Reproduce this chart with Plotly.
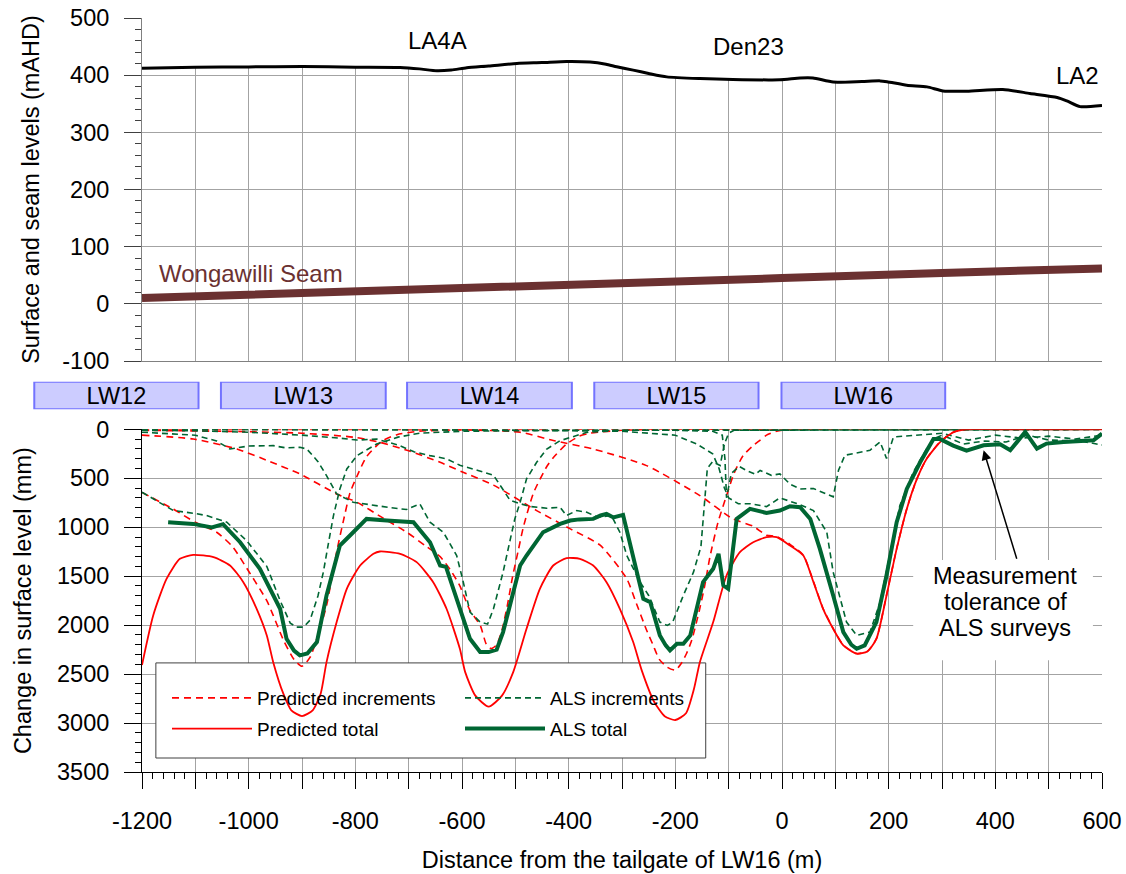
import plotly.graph_objects as go

# ---------------- data ----------------
surface_x = [-1200, -1100, -1000, -900, -800, -716, -680, -647, -620, -591, -550, -497, -450, -404, -360,
             -330, -310, -279, -250, -216, -154, -92, -4, 34, 58, 96, 150, 184, 197, 234, 272, 302, 347,
             414, 465, 516, 534, 559, 600]
surface_y = [412, 414, 414.5, 415, 414, 413.5, 411, 407.6, 409, 413, 416, 420.5, 422, 424, 423,
             419, 414.6, 408.8, 403, 397, 394, 392.4, 392, 395, 395, 388, 389, 390, 388.6, 382.5, 379.5, 372.5, 372,
             375, 368, 361, 355, 345, 347]
seam_x = [-1200, -900, -600, -300, 0, 300, 600]
seam_y = [10, 18, 27, 36, 45, 54, 62]

site_labels = ["LA4A", "Den23", "LA2"]
site_x = [-646, -62, 554]
site_y = [460, 451, 400]

panel_names = ["LW12", "LW13", "LW14", "LW15", "LW16"]
panel_start = [-1402, -1052, -703, -352, -1]
panel_end = [-1094, -743, -394, -44, 306]

pred_total_x = [-1200, -1179, -1154, -1129, -1104, -1066, -1035, -1010, -985, -966, -954, -935, -920, -900, -880,
                -865, -854, -835, -816, -791, -766, -754, -716, -685, -654, -629, -604, -594, -575, -550, -525,
                -504, -479, -454, -429, -404, -379, -354, -329, -304, -279, -263, -240, -220, -200, -180, -165,
                -154, -129, -104, -79, -54, -29, -10, 15, 40, 59, 77, 96, 115, 140, 160, 177, 196, 215, 234,
                253, 271, 296, 321, 346, 400, 500, 600]
pred_total_y = [2408, 1901, 1527, 1323, 1282, 1306, 1391, 1561, 1833, 2105, 2378, 2700, 2870, 2929, 2870,
                2700, 2378, 1969, 1629, 1391, 1272, 1248, 1272, 1357, 1561, 1833, 2242, 2480, 2720, 2833, 2720,
                2480, 2037, 1629, 1391, 1316, 1323, 1391, 1561, 1833, 2173, 2462, 2780, 2930, 2969, 2900, 2650,
                2378, 1969, 1493, 1255, 1153, 1102, 1102, 1187, 1289, 1561, 1833, 2037, 2207, 2292, 2270, 2140,
                1697, 1221, 813, 507, 303, 133, 31, 0, 0, 0, 0]

pred_inc_lw13_x = [-1200, -1142, -1100, -1060, -1030, -1000, -966, -954, -935, -915, -900, -885, -870, -854,
                   -835, -823, -810, -797, -779, -750, -722, -680, -600, 600]
pred_inc_lw13_y = [645, 813, 950, 1051, 1200, 1450, 1750, 1900, 2150, 2350, 2420, 2330, 2100, 1800,
                   1250, 950, 650, 480, 280, 120, 55, 20, 5, 0]
pred_inc_lw14_x = [-1200, -1104, -1022, -960, -904, -835, -797, -750, -704, -666, -641, -620, -604, -585, -566,
                   -554, -545, -535, -525, -515, -505, -495, -485, -466, -441, -429, -404, -380, -360, -300,
                   -200, 600]
pred_inc_lw14_y = [60, 99, 201, 330, 456, 660, 745, 900, 1050, 1200, 1300, 1450, 1600, 1850, 2000,
                   2200, 2240, 2200, 2050, 1800, 1500, 1250, 1000, 650, 380, 290, 150, 70, 40, 10,
                   0, 0]
pred_inc_lw15_x = [-1200, -1000, -900, -804, -754, -700, -641, -598, -541, -460, -397, -341, -291, -275, -254,
                   -242, -230, -215, -200, -190, -179, -169, -155, -145, -135, -120, -104, -90, -73, -55, -41,
                   -29, -10, 20, 600]
pred_inc_lw15_y = [10, 25, 40, 80, 133, 220, 337, 439, 570, 830, 1017, 1184, 1527, 1750, 2050,
                   2200, 2350, 2430, 2460, 2400, 2290, 2150, 1850, 1600, 1300, 950, 677, 450, 269, 170, 110,
                   60, 20, 0, 0]
pred_inc_lw16_x = [-1200, -700, -600, -491, -429, -354, -254, -154, -92, -54, -29, -10, 15, 40, 59, 77, 96,
                   115, 140, 160, 177, 196, 215, 234, 253, 271, 296, 321, 346, 600]
pred_inc_lw16_y = [0, 3, 5, 30, 114, 201, 371, 677, 915, 990, 1082, 1095, 1175, 1285, 1555, 1830, 2035,
                   2205, 2290, 2268, 2138, 1695, 1219, 811, 505, 301, 131, 29, 0, 0]

als_total_x = [-1151, -1104, -1069, -1048, -1016, -979, -941, -929, -915, -904, -890, -872, -854, -829, -810,
               -779, -741, -691, -660, -641, -630, -604, -585, -566, -550, -535, -523, -491, -479, -448, -416,
               -397, -380, -354, -340, -329, -316, -298, -279, -260, -247, -229, -218, -210, -197, -185, -172,
               -148, -129, -119, -110, -101, -85, -60, -29, -4, 15, 34, 53, 71, 96, 115, 130, 140, 155, 177,
               196, 215, 234, 259, 284, 296, 321, 346, 378, 409, 428, 456, 478, 496, 528, 560, 584, 600]
als_total_y = [949, 966, 1003, 969, 1153, 1425, 1833, 2140, 2260, 2309, 2290, 2173, 1697, 1187, 1085,
               915, 932, 949, 1153, 1391, 1405, 1833, 2140, 2275, 2275, 2250, 2071, 1391, 1289, 1051, 966,
               932, 920, 915, 880, 864, 900, 874, 1289, 1732, 1765, 2105, 2207, 2258, 2190, 2190, 2105,
               1561, 1425, 1272, 1595, 1629, 915, 813, 854, 830, 786, 796, 915, 1221, 1697, 2071, 2200, 2242,
               2207, 1969, 1493, 949, 609, 337, 99, 99, 166, 218, 163, 153, 214, 27, 197, 146, 129, 120, 112, 44]

als_inc_lw13_x = [-1200, -1141, -1100, -1079, -1041, -1004, -966, -941, -922, -910, -897, -885, -870, -860,
                  -850, -841, -829, -816, -797, -760, -720, -680, -600, -400, 600]
als_inc_lw13_y = [643, 830, 860, 881, 949, 1136, 1400, 1750, 1980, 2020, 2020, 1950, 1700, 1459,
                  1150, 881, 609, 405, 269, 150, 80, 40, 20, 10, 5]
als_inc_lw14_x = [-1200, -1150, -1100, -1060, -1035, -1000, -954, -930, -904, -891, -870, -854, -835, -804,
                  -766, -735, -704, -679, -660, -635, -610, -598, -585, -566, -552, -541, -523, -510, -501,
                  -491, -479, -460, -441, -416, -397, -366, -300, -200, 600]
als_inc_lw14_y = [30, 45, 60, 120, 201, 170, 167, 190, 184, 201, 330, 473, 660, 745,
                  779, 800, 819, 762, 949, 1051, 1289, 1550, 1867, 1969, 1990, 1833, 1459, 1119, 915,
                  745, 507, 337, 201, 116, 82, 31, 10, 5, 0]
als_inc_lw15_x = [-1200, -1100, -1000, -900, -830, -797, -760, -720, -690, -660, -630, -604, -570, -541,
                  -525, -510, -491, -470, -441, -416, -404, -385, -366, -345, -320, -304, -291, -266, -250,
                  -229, -215, -205, -185, -166, -152, -144, -140, -130, -116, -108, -100, -90, 600]
als_inc_lw15_y = [10, 15, 30, 60, 90, 110, 100, 160, 230, 269, 300, 367, 420, 469,
                  600, 724, 760, 790, 806, 796, 881, 830, 847, 900, 880, 1051, 1289, 1561, 1697,
                  1969, 2003, 1969, 1697, 1459, 1200, 700, 400, 330, 370, 150, 40, 10, 0]
als_inc_lw16a_x = [-1200, -600, -300, -200, -130, -112, -107, -104, -95, -80, -66, -50, -41, -20, -4, 15,
                   34, 59, 96, 106, 118, 140, 165, 184, 196, 209, 250, 300, 350, 400, 450, 500, 550, 600]
als_inc_lw16a_y = [0, 3, 5, 10, 20, 60, 300, 700, 450, 380, 422, 460, 420, 470, 456, 560,
                   609, 605, 690, 418, 265, 240, 214, 129, 299, 78, 60, 40, 110, 60, 90, 70, 100, 60]
als_inc_lw16b_x = [-1200, -600, -300, -200, -160, -130, -118, -108, -100, -82, -60, -29, -4, 34, 59, 84,
                   96, 121, 140, 165, 184, 202, 221, 246, 271, 284, 300, 340, 380, 420, 460, 500, 560, 600]
als_inc_lw16b_y = [0, 5, 20, 60, 150, 250, 400, 600, 700, 760, 760, 790, 700, 770, 830, 1051,
                   1459, 1969, 2105, 2071, 1765, 1289, 779, 439, 201, 99, 60, 150, 120, 130, 60, 110, 120, 160]

x_tick_vals = [-1200, -1100, -1000, -900, -800, -700, -600, -500, -400, -300, -200, -100, 0, 100, 200, 300,
               400, 500, 600]
x_tick_text = ["-1200", "", "-1000", "", "-800", "", "-600", "", "-400", "", "-200", "", "0", "", "200", "",
               "400", "", "600"]
top_y_vals = [-100, 0, 100, 200, 300, 400, 500]
top_y_text = ["-100", "0", "100", "200", "300", "400", "500"]
bot_y_vals = [0, 500, 1000, 1500, 2000, 2500, 3000, 3500]
bot_y_text = ["0", "500", "1000", "1500", "2000", "2500", "3000", "3500"]

note_lines = ["Measurement", "tolerance of", "ALS surveys"]

# ---------------- layout geometry (page pixels -> paper fractions) ----------------
OFF = 0                      # body margin removed by the post script below
PAGE_W, PAGE_H = 1126, 874
W, H = PAGE_W - OFF, PAGE_H - OFF
LEFT, RIGHT, TOP, BOTTOM = 142, 1102, 18, 772   # plot edges on the page
ML, MT = 12, TOP - OFF
MR = W - (RIGHT - OFF)
MB = H - (BOTTOM - OFF)
PW, PH = W - ML - MR, H - MT - MB


def px_x(px):
    return (px - OFF - ML) / PW


def px_y(py):
    return (H - MB - (py - OFF)) / PH


XD0 = px_x(LEFT)
UNITS_PER_PX = 1800 / (RIGHT - LEFT)
X3_LO = -1200 - (LEFT - OFF - ML) * UNITS_PER_PX

FONT = "Liberation Sans, Arial, sans-serif"
GRID = "#a3a3a3"
RED = "#ff0000"
GREEN = "#006633"
SEAM = "#6b3131"

fig = go.Figure()

# top panel: white fill above the surface hides the grid
fig.add_trace(go.Scatter(x=surface_x + [600, -1200], y=surface_y + [500, 500], fill="toself",
                         fillcolor="white", line=dict(width=0), mode="lines", showlegend=False,
                         hoverinfo="skip", xaxis="x", yaxis="y"))
fig.add_trace(go.Scatter(x=seam_x, y=seam_y, mode="lines", line=dict(color=SEAM, width=8),
                         showlegend=False, xaxis="x", yaxis="y"))
fig.add_trace(go.Scatter(x=surface_x, y=surface_y, mode="lines",
                         line=dict(color="black", width=3, shape="spline", smoothing=0.6),
                         showlegend=False, xaxis="x", yaxis="y"))

# panels row
fig.add_trace(go.Bar(x=[e - s for s, e in zip(panel_start, panel_end)], base=panel_start,
                     y=[0] * len(panel_names), orientation="h", width=1, text=panel_names,
                     textposition="inside", insidetextanchor="middle", constraintext="none",
                     textfont=dict(size=23.5, color="black", family=FONT),
                     marker=dict(color="#ccccff", line=dict(color="#7373ff", width=2)),
                     showlegend=False, hoverinfo="skip", xaxis="x3", yaxis="y3"))

# bottom panel
pred_incs = [(pred_inc_lw13_x, pred_inc_lw13_y), (pred_inc_lw14_x, pred_inc_lw14_y),
             (pred_inc_lw15_x, pred_inc_lw15_y), (pred_inc_lw16_x, pred_inc_lw16_y)]
als_incs = [(als_inc_lw13_x, als_inc_lw13_y), (als_inc_lw14_x, als_inc_lw14_y),
            (als_inc_lw15_x, als_inc_lw15_y), (als_inc_lw16a_x, als_inc_lw16a_y),
            (als_inc_lw16b_x, als_inc_lw16b_y)]

for i, (xs, ys) in enumerate(pred_incs):
    fig.add_trace(go.Scatter(x=xs, y=ys, mode="lines", name="Predicted increments",
                             line=dict(color=RED, width=1.6, dash="7px,5px", shape="spline", smoothing=0.6),
                             legend="legend", legendgroup="pinc", showlegend=(i == 0),
                             xaxis="x2", yaxis="y2"))
for i, (xs, ys) in enumerate(als_incs):
    fig.add_trace(go.Scatter(x=xs, y=ys, mode="lines", name="ALS increments",
                             line=dict(color=GREEN, width=1.6, dash="6px,4px"),
                             legend="legend2", legendgroup="ainc", showlegend=(i == 0),
                             xaxis="x2", yaxis="y2"))
fig.add_trace(go.Scatter(x=pred_total_x, y=pred_total_y, mode="lines", name="Predicted total",
                         line=dict(color=RED, width=1.8, shape="spline", smoothing=0.6),
                         legend="legend", legendgroup="ptot", xaxis="x2", yaxis="y2"))
fig.add_trace(go.Scatter(x=als_total_x, y=als_total_y, mode="lines", name="ALS total",
                         line=dict(color=GREEN, width=4),
                         legend="legend2", legendgroup="atot", xaxis="x2", yaxis="y2"))

tickfont = dict(family=FONT, size=23.5, color="black")
titlefont = dict(family=FONT, size=23.5, color="black")

fig.update_layout(
    width=W, height=H,
    margin=dict(l=ML, r=MR, t=MT, b=MB, autoexpand=False),
    paper_bgcolor="white", plot_bgcolor="white",
    font=dict(family=FONT, color="black"),
    barmode="overlay",
    xaxis=dict(domain=[XD0, 1], range=[-1200, 600], anchor="y", tickmode="array", tickvals=x_tick_vals,
               showticklabels=False, ticks="", showgrid=True, gridcolor=GRID, gridwidth=1,
               showline=True, linecolor="#808080", linewidth=1, zeroline=False, automargin=False),
    yaxis=dict(domain=[px_y(361), 1], range=[-100, 500], anchor="x", tickmode="array",
               tickvals=top_y_vals, ticktext=top_y_text, ticks="outside", ticklen=17, tickcolor="#404040",
               minor=dict(dtick=20, tick0=0, ticks="outside", ticklen=6, tickcolor="#404040", showgrid=False),
               showline=True, linecolor="#808080", linewidth=1, showgrid=True, gridcolor=GRID,
               zeroline=False, tickfont=tickfont, ticklabelstandoff=10, automargin=False,
               ticklabeloverflow="allow",
               title=dict(text="Surface and seam levels (mAHD)", font=titlefont, standoff=16)),
    xaxis2=dict(domain=[XD0, 1], range=[-1200, 600], anchor="y2", tickmode="array", tickvals=x_tick_vals,
                ticktext=x_tick_text, ticks="outside", ticklen=16, tickcolor="black",
                minor=dict(dtick=20, tick0=-1200, ticks="outside", ticklen=6, tickcolor="black", showgrid=False),
                showline=True, linecolor="black", linewidth=1, showgrid=True, gridcolor=GRID,
                zeroline=False, tickfont=tickfont, ticklabelstandoff=12, automargin=False,
                ticklabeloverflow="allow",
                title=dict(text="Distance from the tailgate of LW16 (m)", font=titlefont, standoff=18)),
    yaxis2=dict(domain=[0, px_y(429.3)], range=[3500, 0], anchor="x2", tickmode="array",
                tickvals=bot_y_vals, ticktext=bot_y_text, ticks="outside", ticklen=17, tickcolor="black",
                minor=dict(dtick=100, tick0=0, ticks="outside", ticklen=6, tickcolor="black", showgrid=False),
                showline=True, linecolor="black", linewidth=1, showgrid=True, gridcolor=GRID,
                zeroline=False, tickfont=tickfont, ticklabelstandoff=10, automargin=False,
                ticklabeloverflow="allow",
                title=dict(text="Change in surface level (mm)", font=titlefont, standoff=18)),
    xaxis3=dict(domain=[0, 1], range=[X3_LO, 600], anchor="y3", visible=False, fixedrange=True,
                automargin=False),
    yaxis3=dict(domain=[px_y(409.3), px_y(381.7)], range=[-0.5, 0.5], anchor="x3", visible=False,
                fixedrange=True, automargin=False),
    legend=dict(x=px_x(167), y=px_y(679), xanchor="left", yanchor="top", bgcolor="rgba(0,0,0,0)",
                borderwidth=0, font=dict(family=FONT, size=19, color="black"), tracegroupgap=3,
                itemwidth=80, traceorder="grouped"),
    legend2=dict(x=px_x(460), y=px_y(679), xanchor="left", yanchor="top", bgcolor="rgba(0,0,0,0)",
                 borderwidth=0, font=dict(family=FONT, size=19, color="black"), tracegroupgap=3,
                 itemwidth=80, traceorder="grouped"),
)

shapes = [
    # legend frame (drawn under the curves, above the grid)
    dict(type="rect", xref="x2", yref="y2", x0=-1174, x1=-143, y0=2386, y1=3357,
         fillcolor="white", line=dict(color="#404040", width=1), layer="between"),
    # white box behind the note
    dict(type="rect", xref="x2", yref="y2", x0=246, x1=583, y0=1336, y1=2358,
         fillcolor="white", line=dict(width=0), layer="between"),
]
fig.update_layout(shapes=shapes)

annotations = []
for lab, sx, sy in zip(site_labels, site_x, site_y):
    annotations.append(dict(x=sx, y=sy, xref="x", yref="y", text=lab, showarrow=False,
                            font=dict(family=FONT, size=24, color="black")))
annotations.append(dict(x=-996, y=53, xref="x", yref="y", text="Wongawilli Seam", showarrow=False,
                        font=dict(family=FONT, size=24, color=SEAM)))
for line_text, ly in zip(note_lines, [1496, 1768, 2034]):
    annotations.append(dict(x=419, y=ly, xref="x2", yref="y2", text=line_text, showarrow=False,
                            font=dict(family=FONT, size=23.5, color="black")))
annotations.append(dict(x=378, y=215, xref="x2", yref="y2", ax=441, ay=1337, axref="x2", ayref="y2",
                        text="", showarrow=True, arrowhead=2, arrowsize=1.3, arrowwidth=1.5,
                        arrowcolor="black"))
fig.update_layout(annotations=annotations)

fig.write_html("out.html", config={"displayModeBar": False},
               post_script="document.body.style.margin='0px';document.body.style.overflow='hidden';")
